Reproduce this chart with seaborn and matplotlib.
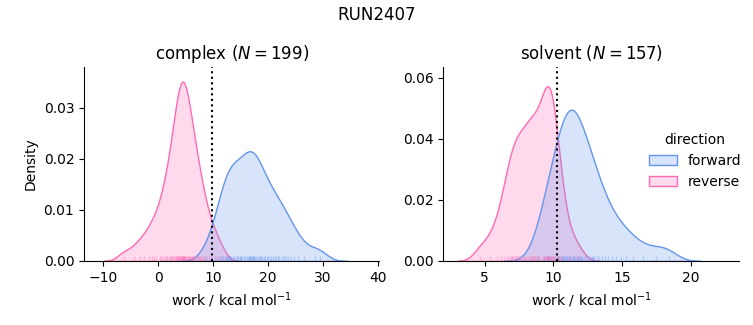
import numpy as np
import pandas as pd
import matplotlib
matplotlib.use("Agg")
import matplotlib.pyplot as plt
import seaborn as sns

# ---- data ----
phases = ["complex", "solvent"]
n_per_phase = [199, 157]            # N shown in the titles
sample_counts = [199, 173]          # relative sample weight per phase (estimated from curve areas)
free_energy = [9.8, 10.25]          # dotted vertical lines
directions = ["forward", "reverse"]
palette = {"forward": "cornflowerblue", "reverse": "hotpink"}

complex_forward = [8.8, 9.6,
                   10.4, 10.9, 11.3, 11.7, 11.9,
                   12.1, 12.3, 12.5, 12.65, 12.8, 13.0, 13.1, 13.35, 13.6, 13.85,
                   14.1, 14.35, 14.6, 14.85, 15.0, 15.1, 15.35, 15.6, 15.85,
                   16.1, 16.3, 16.5, 16.7, 16.8, 16.9, 17.1, 17.2, 17.3, 17.5, 17.7, 17.9,
                   18.1, 18.3, 18.5, 18.75, 19.0, 19.25, 19.5, 19.75,
                   20.0, 20.3, 20.6, 20.9, 21.2, 21.5, 21.8,
                   22.1, 22.5, 22.9, 23.3, 23.7,
                   24.2, 24.8, 25.5,
                   26.5, 28.6, 29.5]
complex_reverse = [-6.3, -4.4, -3.3, -2.5,
                   -1.7, -1.1, -0.7, -0.3,
                   0.3, 0.6, 0.9, 1.2, 1.5, 1.7, 1.9,
                   2.2, 2.4, 2.5, 2.6, 2.8, 3.0, 3.2, 3.4, 3.5, 3.6, 3.7, 3.8, 3.9,
                   4.05, 4.15, 4.25, 4.35, 4.45, 4.5, 4.55, 4.6, 4.65, 4.75, 4.85, 4.95,
                   5.1, 5.25, 5.4, 5.55, 5.7, 5.85,
                   6.0, 6.1, 6.2, 6.4, 6.6, 6.8, 7.0, 7.2, 7.4, 7.6, 7.8,
                   8.1, 8.4, 8.8, 9.3, 9.8, 10.6, 11.3]
solvent_forward = [8.8,
                   9.3, 9.55, 9.6, 9.7, 9.85, 9.95,
                   10.25, 10.35, 10.45, 10.55, 10.65, 10.72, 10.8, 10.88, 10.95,
                   11.02, 11.1, 11.18, 11.26, 11.42, 11.45, 11.5, 11.6, 11.7, 11.8, 11.9, 11.97,
                   12.05, 12.1, 12.25, 12.4, 12.55, 12.7, 12.8, 12.9, 12.97,
                   13.15, 13.35, 13.55, 13.75, 13.95,
                   14.25, 14.6, 14.9,
                   15.3, 15.8, 16.5, 17.5, 18.4]
solvent_reverse = [4.7, 5.4, 5.9,
                   6.2, 6.4, 6.6, 6.75, 6.9, 6.98,
                   7.1, 7.2, 7.3, 7.35, 7.5, 7.6, 7.75, 7.85, 7.95,
                   8.1, 8.2, 8.3, 8.4, 8.45, 8.5, 8.6, 8.7, 8.8, 8.9, 8.98,
                   9.24, 9.32, 9.4, 9.47, 9.54, 9.58, 9.61, 9.68, 9.72, 9.75, 9.82, 9.9, 9.97,
                   10.05, 10.15, 10.25, 10.35, 10.45, 10.55,
                   11.2, 11.7]

samples = {
    ("complex", "forward"): complex_forward,
    ("complex", "reverse"): complex_reverse,
    ("solvent", "forward"): solvent_forward,
    ("solvent", "reverse"): solvent_reverse,
}

rows = []
for phase, n in zip(phases, sample_counts):
    for d in directions:
        vals = samples[(phase, d)]
        w = n / len(vals)
        for v in vals:
            rows.append({"phase": phase, "direction": d, "work": v, "weight": w})
df = pd.DataFrame(rows)

g = sns.displot(
    data=df, x="work", hue="direction", col="phase", kind="kde",
    weights="weight", fill=True, rug=True, bw_adjust=0.8,
    hue_order=directions, col_order=phases, palette=palette,
    rug_kws=dict(alpha=0.35, linewidth=1),
    facet_kws=dict(sharex=False, sharey=False),
    height=3, aspect=1.1,
)

xlims = [(-13.5, 40.3), (2.0, 23.5)]
ylims = [(0, 0.038), (0, 0.0636)]
for ax, phase, n, fe, xl, yl in zip(g.axes.flat, phases, n_per_phase, free_energy, xlims, ylims):
    ax.axvline(fe, color="black", linestyle=":", linewidth=1.5)
    ax.set_title(f"{phase} ($N={n}$)", fontsize=12)
    ax.set_xlim(*xl)
    ax.set_ylim(*yl)

g.set_axis_labels("work / kcal mol$^{-1}$", "Density")
g.axes.flat[1].set_ylabel("")

fig = g.figure
fig.set_size_inches(7.53, 3.25)
fig.subplots_adjust(left=0.1116, right=0.981, bottom=0.197, top=0.794, wspace=0.2166)
sns.move_legend(g, "center left", bbox_to_anchor=(0.845, 0.505), frameon=False)
fig.suptitle("RUN2407", fontsize=12, y=0.98)

fig.savefig("out.png", dpi=100)
